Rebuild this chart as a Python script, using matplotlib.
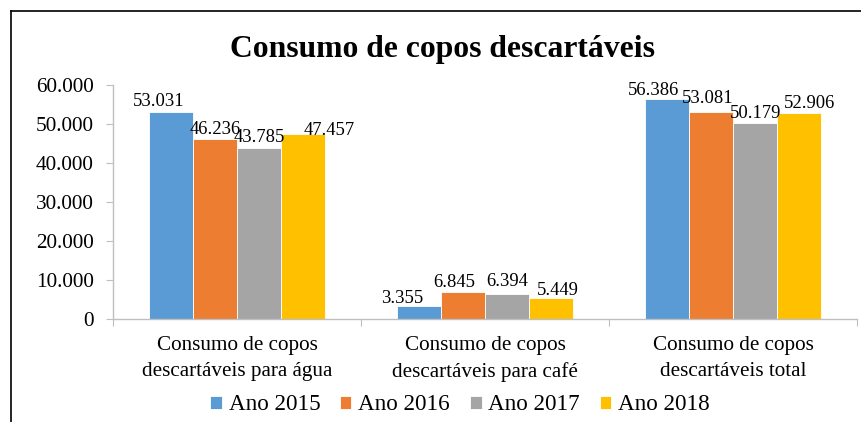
import matplotlib
matplotlib.use("Agg")
import matplotlib.pyplot as plt
from matplotlib.lines import Line2D

plt.rcParams['font.family'] = ['Liberation Serif', 'DejaVu Serif']

categories = ['Consumo de copos\ndescartáveis para água',
              'Consumo de copos\ndescartáveis para café',
              'Consumo de copos\ndescartáveis total']
series_names = ['Ano 2015', 'Ano 2016', 'Ano 2017', 'Ano 2018']
ano_2015 = [53031, 3355, 56386]
ano_2016 = [46236, 6845, 53081]
ano_2017 = [43785, 6394, 50179]
ano_2018 = [47457, 5449, 52906]
colors = ['#5B9BD5', '#ED7D31', '#A5A5A5', '#FFC000']
y_ticks = [0, 10000, 20000, 30000, 40000, 50000, 60000]

# where Excel nudged each data label (dx, dy in pixels), per series then category
label_shift = [
    [(-12, 6), (-17, 3), (-13, 4)],
    [(0, 5), (-9, 5), (-3, 9)],
    [(0, 6), (0, 8), (0, 5)],
    [(26, -1), (7, 3), (10, 5)],
]


def fmt(v):
    return f'{v:,.0f}'.replace(',', '.')


fig = plt.figure(figsize=(8.62, 4.22), dpi=100)
W, H = 862, 422
ax = fig.add_axes([113 / W, (H - 319) / H, 744 / W, (319 - 85) / H])

w = 0.178
values = [ano_2015, ano_2016, ano_2017, ano_2018]
x = list(range(len(categories)))
handles = []
for i, (vals, name) in enumerate(zip(values, series_names)):
    pos = [c + (i - 1.5) * w for c in x]
    bars = ax.bar(pos, vals, width=w, color=colors[i], edgecolor='white',
                  linewidth=0.6, label=name)
    for p, v, (dx, dy) in zip(pos, vals, label_shift[i]):
        ax.annotate(fmt(v), (p, v), xytext=(dx * 0.72, dy * 0.72),
                    textcoords='offset points', ha='center', va='baseline',
                    fontsize=13.4)
    handles.append(bars)

ax.set_xlim(-0.5, 2.5)
ax.set_ylim(0, 60000)
ax.set_yticks(y_ticks)
ax.set_yticklabels([fmt(v) for v in y_ticks], fontsize=15.3)

ax.set_xticks([-0.5, 0.5, 1.5, 2.5])
ax.set_xticklabels([])
ax.set_xticks(x, minor=True)
ax.set_xticklabels(categories, minor=True, fontsize=15.2, linespacing=1.5)
ax.tick_params(axis='x', which='minor', length=0, pad=12)
ax.tick_params(axis='x', which='major', length=5, color='#BFBFBF')
ax.tick_params(axis='y', length=5, color='#BFBFBF', pad=9)

for s in ['top', 'right']:
    ax.spines[s].set_visible(False)
for s in ['left', 'bottom']:
    ax.spines[s].set_color('#BFBFBF')
    ax.spines[s].set_linewidth(1.0)

fig.text(443 / W, 1 - 50 / H, 'Consumo de copos descartáveis', ha='center',
         va='center', fontsize=22.8, fontweight='bold')

fig.legend(handles=handles, labels=series_names, loc='center',
           bbox_to_anchor=(460 / W, 1 - 405 / H), ncol=4, frameon=False,
           fontsize=16.7, handlelength=0.5, handleheight=0.5,
           handletextpad=0.3, columnspacing=0.85)

# chart border (top and left visible in the crop)
fig.add_artist(Line2D([11 / W, 1], [1 - 11 / H, 1 - 11 / H], color='black', lw=1.2))
fig.add_artist(Line2D([11 / W, 11 / W], [0, 1 - 11 / H], color='black', lw=1.2))

fig.savefig('out.png', dpi=100)
